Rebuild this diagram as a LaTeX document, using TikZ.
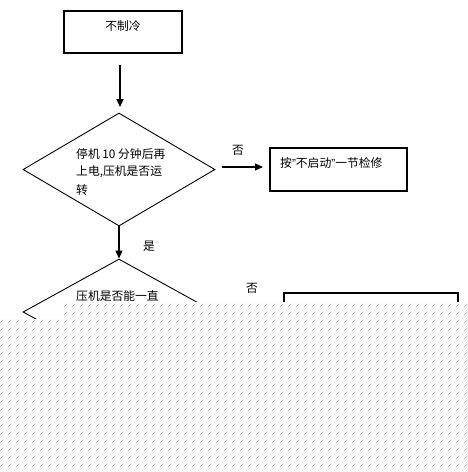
\documentclass[tikz,border=0pt]{standalone}
\usepackage{fontspec}
\setmainfont{Noto Sans CJK SC}
\newfontfamily\quotefont{Liberation Sans}
\usetikzlibrary{arrows.meta,shapes.geometric}
\begin{document}
\begin{tikzpicture}[x=1pt,y=-1pt,
  boxnode/.style={draw=black,line width=1.1pt,rectangle,inner sep=0pt},
  dianode/.style={draw=black,line width=0.9pt,diamond,inner sep=0pt,aspect=1},
  txt/.style={inner sep=0pt,font=\fontsize{11.8}{13}\selectfont,text=black},
  arr/.style={line width=1.1pt,-{Triangle[length=8pt,width=7pt]}},
  dotA/.style={gray!80,line width=1pt,dash pattern=on 1pt off 7pt},
  dotB/.style={gray!40,line width=1pt,dash pattern=on 1pt off 7pt}]
\useasboundingbox (0,0) rectangle (468,472);
\fill[white] (0,0) rectangle (468,472);
% boxes
\node[boxnode,minimum width=118pt,minimum height=42pt] (b1) at (123,32) {};
\node[txt] (t1) at (123,26) {不制冷};
\node[boxnode,minimum width=137pt,minimum height=43pt] (b2) at (338.5,169.5) {};
\node[txt,anchor=west] (t2) at (280,163) {按{\quotefont ”}不启动{\quotefont ”}一节检修};
\node[boxnode,minimum width=174pt,minimum height=52pt] (b3) at (371,319) {};
% diamonds
\node[dianode,minimum width=192pt,minimum height=113pt] (d1) at (119,169.5) {};
\node[txt,anchor=west] (d1a) at (76,154) {停机 10 分钟后再};
\node[txt,anchor=west] (d1b) at (76,172) {上电,压机是否运};
\node[txt,anchor=west] (d1c) at (76,190) {转};
\node[dianode,minimum width=192pt,minimum height=106pt] (d2) at (119,312) {};
\node[txt,anchor=west] (d2a) at (76,296) {压机是否能一直};
% labels
\node[txt] (no1) at (238,150) {否};
\node[txt] (yes1) at (149,246) {是};
\node[txt] (no2) at (252,288) {否};
% connectors
\coordinate (a1s) at (120,65);
\coordinate (a1e) at (120,107);
\draw[arr] (a1s) -- (a1e);
\coordinate (a2s) at (222,167);
\coordinate (a2e) at (263,167);
\draw[arr] (a2s) -- (a2e);
\draw[arr] (d1.south) -- (d2.north);
% mask
\fill[gray!3] (0,319) -- (65,319) -- (65,302) -- (468,302) -- (468,472) -- (0,472) -- cycle;
\foreach \yy in {305,313} {
  \draw[dotA] (65,\yy) -- (468,\yy);
  \draw[dotB] (66,\yy-1) -- (468,\yy-1);
  \draw[dotB] (64,\yy+1) -- (468,\yy+1);
}
\foreach \yy in {321,329,...,473} {
  \draw[dotA] (1,\yy) -- (468,\yy);
  \draw[dotB] (2,\yy-1) -- (468,\yy-1);
  \draw[dotB] (0,\yy+1) -- (468,\yy+1);
}
\end{tikzpicture}
\end{document}
